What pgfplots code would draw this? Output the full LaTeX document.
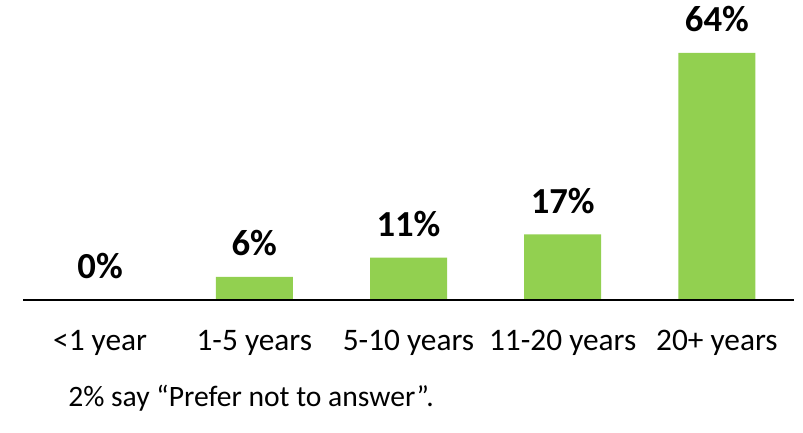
\documentclass[border=0pt]{standalone}
\usepackage{fontspec}
\setmainfont{Carlito}
\usepackage{pgfplots}
\pgfplotsset{compat=1.18}
\definecolor{barGreen}{HTML}{92D050}

\begin{document}
\begin{tikzpicture}
  \begin{axis}[
      scale only axis,
      width=578.25pt, height=225pt,
      xmin=-0.5, xmax=4.5,
      ymin=0, ymax=77.7,
      axis on top,
      axis x line*=bottom,
      hide y axis,
      x axis line style={-, line width=1.5pt, black},
      xtick=data,
      xticklabels={{<1 year},{1-5 years},{5-10 years},{11-20 years},{20+ years}},
      major tick length=0pt,
      xticklabel style={anchor=base, yshift=-37.5pt, font=\fontsize{23.5}{28}\selectfont},
      ybar, bar width=57.75pt,
      /pgf/number format/assume math mode=true,
      nodes near coords={\pgfmathprintnumber{\pgfplotspointmeta}\%},
      every node near coord/.append style={anchor=base, yshift=16pt,
        font=\fontsize{27.5}{32}\selectfont\bfseries, black},
    ]
    \addplot[fill=barGreen, draw=none] coordinates {
      (0,0) (1,6) (2,11) (3,17) (4,64)
    };
  \end{axis}
  \node[anchor=base west, inner sep=0pt, font=\fontsize{22.2}{26}\selectfont]
    at ([xshift=33.75pt, yshift=-79.5pt]current axis.south west)
    {2\% say “Prefer not to answer”.};
  \pgfresetboundingbox
  \path[use as bounding box] ([xshift=-17.25pt, yshift=-99pt]current axis.south west)
    rectangle ([xshift=6.75pt]current axis.north east);
\end{tikzpicture}
\end{document}
